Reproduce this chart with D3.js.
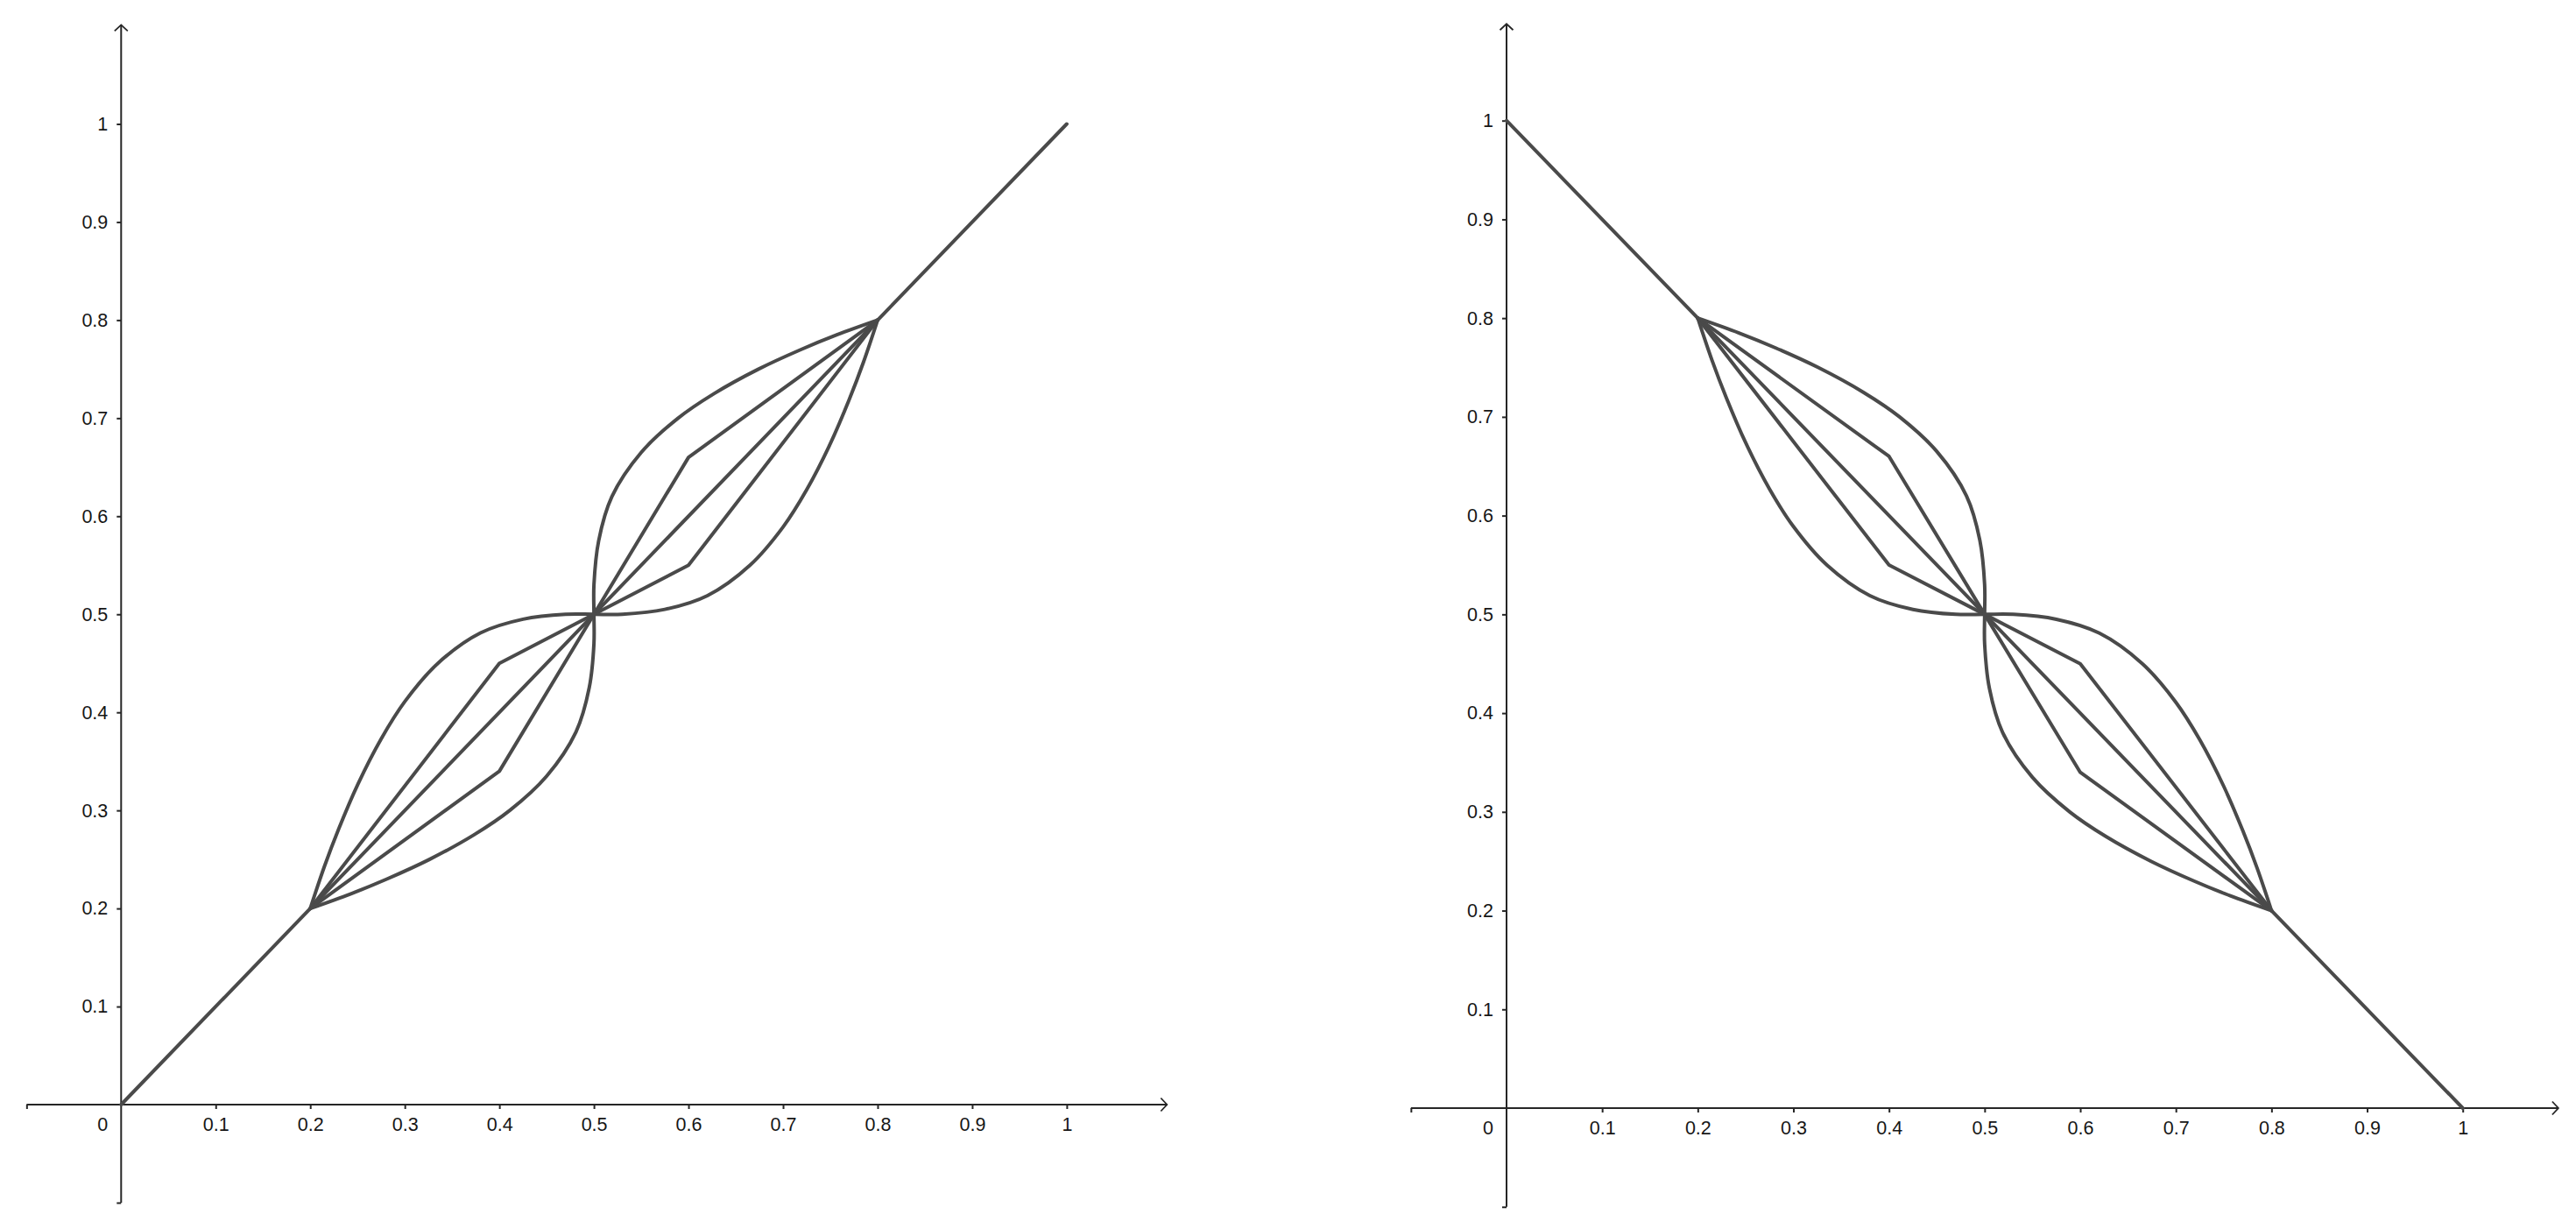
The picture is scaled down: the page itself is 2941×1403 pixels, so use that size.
<!DOCTYPE html>
<html>
<head>
<meta charset="utf-8">
<script src="https://cdn.jsdelivr.net/npm/d3@7"></script>
<style>
  body { margin: 0; background: #fff; }
  svg { display: block; background: #fff; }
  .tick text, .origin { font-family: "Liberation Sans", Arial, sans-serif; font-size: 21.5px; fill: #161616; }
  .tick line, .axis-line { stroke: #262626; stroke-width: 2; }
  .curve { fill: none; stroke: #4a4a4a; stroke-width: 4; stroke-linejoin: round; stroke-linecap: round; }
</style>
</head>
<body>
<svg id="chart"></svg>
<script>
var tickValues = [-0.1, 0.1, 0.2, 0.3, 0.4, 0.5, 0.6, 0.7, 0.8, 0.9, 1],
    tickLabels = ["", "0.1", "0.2", "0.3", "0.4", "0.5", "0.6", "0.7", "0.8", "0.9", "1"]

// left panel: increasing
var leftDiagonal = [[0, 0], [1, 1]],
    leftKinkA = [[0.2, 0.2], [0.4, 0.45], [0.5, 0.5], [0.6, 0.55], [0.8, 0.8]],
    leftKinkB = [[0.2, 0.2], [0.4, 0.34], [0.5, 0.5], [0.6, 0.66], [0.8, 0.8]],
    leftFlat = [[0.2, 0.2], [0.215, 0.243], [0.23, 0.281], [0.25, 0.326], [0.275, 0.373],
                [0.3, 0.411], [0.335, 0.45], [0.38, 0.481], [0.425, 0.495], [0.47, 0.5],
                [0.5, 0.5], [0.53, 0.5], [0.575, 0.505], [0.62, 0.519], [0.665, 0.55],
                [0.7, 0.589], [0.725, 0.627], [0.75, 0.674], [0.77, 0.719], [0.785, 0.757],
                [0.8, 0.8]],
    leftSteep = [[0.2, 0.2], [0.243, 0.215], [0.281, 0.23], [0.326, 0.25], [0.373, 0.275],
                 [0.411, 0.3], [0.45, 0.335], [0.481, 0.38], [0.495, 0.425], [0.5, 0.47],
                 [0.5, 0.5], [0.5, 0.53], [0.505, 0.575], [0.519, 0.62], [0.55, 0.665],
                 [0.589, 0.7], [0.627, 0.725], [0.674, 0.75], [0.719, 0.77], [0.757, 0.785],
                 [0.8, 0.8]]

// right panel: decreasing
var rightDiagonal = [[0, 1], [1, 0]],
    rightKinkA = [[0.2, 0.8], [0.4, 0.55], [0.5, 0.5], [0.6, 0.45], [0.8, 0.2]],
    rightKinkB = [[0.2, 0.8], [0.4, 0.66], [0.5, 0.5], [0.6, 0.34], [0.8, 0.2]],
    rightFlat = [[0.2, 0.8], [0.215, 0.757], [0.23, 0.719], [0.25, 0.674], [0.275, 0.627],
                 [0.3, 0.589], [0.335, 0.55], [0.38, 0.519], [0.425, 0.505], [0.47, 0.5],
                 [0.5, 0.5], [0.53, 0.5], [0.575, 0.495], [0.62, 0.481], [0.665, 0.45],
                 [0.7, 0.411], [0.725, 0.373], [0.75, 0.326], [0.77, 0.281], [0.785, 0.243],
                 [0.8, 0.2]],
    rightSteep = [[0.2, 0.8], [0.243, 0.785], [0.281, 0.77], [0.326, 0.75], [0.373, 0.725],
                  [0.411, 0.7], [0.45, 0.665], [0.481, 0.62], [0.495, 0.575], [0.5, 0.53],
                  [0.5, 0.5], [0.5, 0.47], [0.505, 0.425], [0.519, 0.38], [0.55, 0.335],
                  [0.589, 0.3], [0.627, 0.275], [0.674, 0.25], [0.719, 0.23], [0.757, 0.215],
                  [0.8, 0.2]]

var svg = d3.select("#chart")
  .attr("width", 2941)
  .attr("height", 1403)

svg.append("defs").append("marker")
  .attr("id", "arrow")
  .attr("viewBox", "-10 -10 20 20")
  .attr("markerWidth", 20)
  .attr("markerHeight", 20)
  .attr("markerUnits", "userSpaceOnUse")
  .attr("refX", 0)
  .attr("refY", 0)
  .attr("orient", "auto")
  .append("path")
    .attr("d", "M-7,-7.5L0,0L-7,7.5")
    .attr("fill", "none")
    .attr("stroke", "#262626")
    .attr("stroke-width", 1.8)


function drawPanel(p, straight, smooth){
  var x = d3.scaleLinear().domain([0, 1]).range([p.ox, p.ox + p.ux]),
      y = d3.scaleLinear().domain([0, 1]).range([p.oy, p.oy - p.uy]),
      g = svg.append("g")

  var xAxis = g.append("g")
    .attr("transform", `translate(0,${y(0)})`)
    .call(d3.axisBottom(x).tickValues(tickValues)
            .tickFormat((d, i) => tickLabels[i])
            .tickSize(5).tickPadding(10))
  xAxis.select(".domain").remove()
  xAxis.append("line")
    .attr("class", "axis-line")
    .attr("x1", x(-0.1)).attr("x2", x(p.xEnd))
    .attr("marker-end", "url(#arrow)")

  var yAxis = g.append("g")
    .attr("transform", `translate(${x(0)},0)`)
    .call(d3.axisLeft(y).tickValues(tickValues)
            .tickFormat((d, i) => tickLabels[i])
            .tickSize(5).tickPadding(10))
  yAxis.select(".domain").remove()
  yAxis.append("line")
    .attr("class", "axis-line")
    .attr("y1", y(-0.1)).attr("y2", y(p.yEnd))
    .attr("marker-end", "url(#arrow)")

  g.append("text")
    .attr("class", "origin")
    .attr("x", x(0) - 21)
    .attr("y", y(0) + 15)
    .attr("dy", "0.71em")
    .attr("text-anchor", "middle")
    .text("0")

  var lineStraight = d3.line().x((d) => x(d[0])).y((d) => y(d[1])),
      lineSmooth = d3.line().x((d) => x(d[0])).y((d) => y(d[1]))
                     .curve(d3.curveCatmullRom.alpha(0.5))

  g.append("g").selectAll("path")
    .data(straight)
    .enter().append("path")
      .attr("class", "curve")
      .attr("d", lineStraight)

  g.append("g").selectAll("path")
    .data(smooth)
    .enter().append("path")
      .attr("class", "curve")
      .attr("d", lineSmooth)
}


drawPanel({ox: 138.3, oy: 1261, ux: 1079.6, uy: 1119.5, xEnd: 1.106, yEnd: 1.101},
          [leftDiagonal, leftKinkA, leftKinkB],
          [leftFlat, leftSteep])

drawPanel({ox: 1720, oy: 1265, ux: 1091.7, uy: 1127.3, xEnd: 1.1, yEnd: 1.098},
          [rightDiagonal, rightKinkA, rightKinkB],
          [rightFlat, rightSteep])
</script>
</body>
</html>
